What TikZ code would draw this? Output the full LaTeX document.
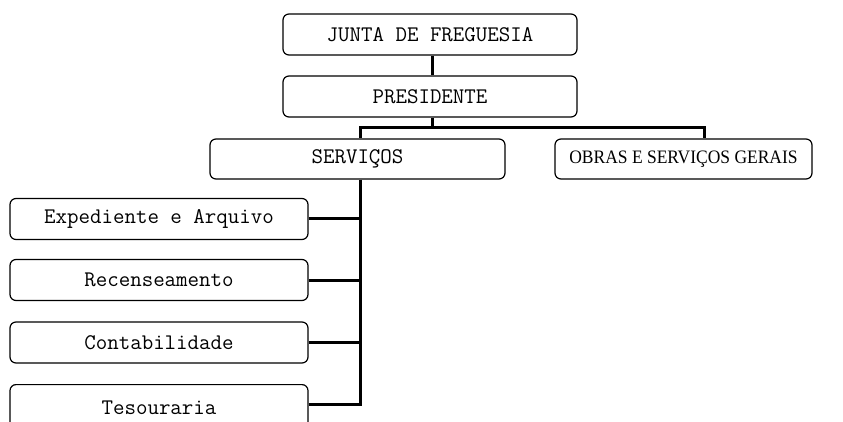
\documentclass[tikz,border=0pt]{standalone}
\usepackage{fontspec}
\newfontfamily\serifcond{Liberation Serif}
\begin{document}
\begin{tikzpicture}[x=1pt,y=-1pt,
  box/.style={draw, rounded corners=6pt, line width=1.2pt, inner sep=0pt, font=\ttfamily\fontsize{22.3}{24}\selectfont},
  link/.style={line width=3pt}]
\useasboundingbox (0,0) rectangle (843,422);
\node[box, minimum width=294pt, minimum height=41pt] (junta) at (430,34.5) {JUNTA DE FREGUESIA};
\node[box, minimum width=294pt, minimum height=41pt] (pres) at (430,96.5) {PRESIDENTE};
\node[box, minimum width=295pt, minimum height=40pt] (serv) at (357.5,159) {SERVIÇOS};
\node[box, minimum width=257pt, minimum height=40pt] (obras) at (683.5,159) {\serifcond\fontsize{19}{20}\selectfont\scalebox{0.92}[1]{OBRAS E SERVIÇOS GERAIS}};
\node[box, minimum width=298pt, minimum height=41pt] (exp) at (159,219) {Expediente e Arquivo};
\node[box, minimum width=298pt, minimum height=41pt] (rec) at (159,280) {Recenseamento};
\node[box, minimum width=298pt, minimum height=41pt] (cont) at (159,342.5) {Contabilidade};
\node[box, minimum width=298pt, minimum height=46pt, anchor=north] (tes) at (159,384) {Tesouraria};
\coordinate (hl) at (360,128);
\coordinate (hr) at (704,128);
\coordinate (vb) at (360,404);
\draw[link] (junta.south -| 432,0) -- (pres.north -| 432,0);
\draw[link] (pres.south -| 432,0) -- (432,128);
\draw[link] (serv.north -| hl) -- (hl) -- (hr) -- (obras.north -| hr);
\draw[link] (serv.south -| hl) -- (vb);
\draw[link] (exp.east) -- (exp.east -| hl);
\draw[link] (rec.east) -- (rec.east -| hl);
\draw[link] (cont.east) -- (cont.east -| hl);
\draw[link] (tes.east |- vb) -- ([xshift=1.5pt]vb);
\end{tikzpicture}
\end{document}
